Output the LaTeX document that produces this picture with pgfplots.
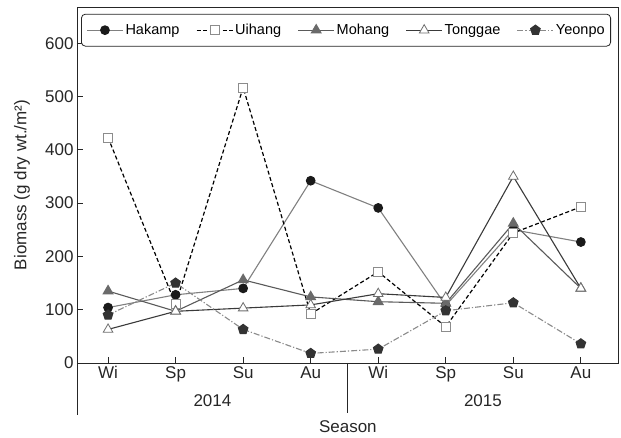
\documentclass[border=0pt]{standalone}
\usepackage{fontspec}
\setmainfont{Liberation Sans}
\usepackage{pgfplots}
\pgfplotsset{compat=1.18}
\usetikzlibrary{calc}
\definecolor{hakline}{HTML}{808080}
\definecolor{hakmark}{HTML}{1A1A1A}
\definecolor{uimark}{HTML}{8C8C8C}
\definecolor{moline}{HTML}{5A5A5A}
\definecolor{momark}{HTML}{6A6A6A}
\definecolor{toline}{HTML}{3A3A3A}
\definecolor{tomark}{HTML}{6E6E6E}
\definecolor{yeline}{HTML}{8A8A8A}
\definecolor{yemark}{HTML}{333333}
\begin{document}
\begin{tikzpicture}
\begin{axis}[
  scale only axis, width=541pt, height=356pt,
  xmin=-0.46, xmax=7.55, ymin=0, ymax=668,
  xtick={0,...,7}, xticklabels={Wi,Sp,Su,Au,Wi,Sp,Su,Au},
  ytick={0,100,...,600},
  tick align=inside, major tick length=6pt,
  xtick pos=bottom, ytick pos=left,
  /pgf/number format/assume math mode=true,
  tick label style={font=\fontsize{17}{19}\selectfont, text=black!85},
  axis line style={line width=0.8pt, black!85},
  tick style={line width=0.8pt, black!85},
  clip=false,
  legend columns=5,
  legend style={at={(rel axis cs:0.0074,0.981)}, anchor=north west, draw=black!85, line width=0.8pt,
    rounded corners=4pt, font=\fontsize{14.5}{16}\selectfont, inner ysep=8pt, inner xsep=5pt,
    nodes={inner xsep=1pt},
    /tikz/every odd column/.append style={column sep=1pt},
    /tikz/every even column/.append style={column sep=15.5pt}},
  legend cell align=left,
  legend image code/.code={\draw[mark repeat=2,mark phase=2] plot coordinates {(0pt,0pt) (18pt,0pt) (36pt,0pt)};},
]
\addplot[hakline, line width=1.1pt, mark=*, mark size=4.3pt, mark options={solid, fill=hakmark, draw=hakmark}]
  coordinates {(0,104) (1,128) (2,140) (3,342) (4,291) (5,108) (6,250) (7,227)};
\addlegendentry{Hakamp}
\addplot[black, line width=1.2pt, dash pattern=on 4pt off 2.5pt, mark=square*, mark size=4.5pt, mark options={solid, fill=white, draw=uimark, line width=0.8pt}]
  coordinates {(0,423) (1,110) (2,517) (3,92) (4,171) (5,68) (6,244) (7,293)};
\addlegendentry{Uihang}
\addplot[moline, line width=1.1pt, mark=triangle*, mark size=5.5pt, mark options={solid, fill=momark, draw=momark}]
  coordinates {(0,135) (1,97) (2,156) (3,124) (4,115) (5,112) (6,262) (7,140)};
\addlegendentry{Mohang}
\addplot[toline, line width=1.1pt, mark=triangle*, mark size=5.5pt, mark options={solid, fill=white, draw=tomark, line width=0.8pt}]
  coordinates {(0,63) (1,97) (2,103) (3,109) (4,130) (5,123) (6,350) (7,140)};
\addlegendentry{Tonggae}
\addplot[yeline, line width=1.1pt, dash pattern=on 6pt off 2pt on 1.2pt off 2pt, mark=pentagon*, mark size=5pt, mark options={solid, fill=yemark, draw=yemark}]
  coordinates {(0,90) (1,150) (2,63) (3,18) (4,26) (5,98) (6,113) (7,36)};
\addlegendentry{Yeonpo}
\coordinate (SW) at (rel axis cs:0,0);
\coordinate (NE) at (rel axis cs:1,1);
\coordinate (DV) at (axis cs:3.55,0);
\coordinate (Y1) at (axis cs:1.545,0);
\coordinate (Y2) at (axis cs:5.55,0);
\end{axis}
\draw[line width=0.8pt, black!85] (SW) -- ++(0,-52pt);
\draw[line width=0.8pt, black!85] (DV) -- ++(0,-50pt);
\node[font=\fontsize{17}{19}\selectfont, text=black!85] at ($(Y1)+(0,-38pt)$) {2014};
\node[font=\fontsize{17}{19}\selectfont, text=black!85] at ($(Y2)+(0,-38pt)$) {2015};
\node[font=\fontsize{17}{19}\selectfont, text=black!85] at ($(DV)+(0,-64pt)$) {Season};
\node[rotate=90, font=\fontsize{17}{19}\selectfont, text=black!85] at ($(SW)!0.5!(SW|-NE)+(-55pt,0)$) {Biomass (g dry wt./m²)};
\pgfresetboundingbox
\useasboundingbox ($(SW)+(-77pt,-75pt)$) rectangle ($(NE)+(3pt,7pt)$);
\end{tikzpicture}
\end{document}
